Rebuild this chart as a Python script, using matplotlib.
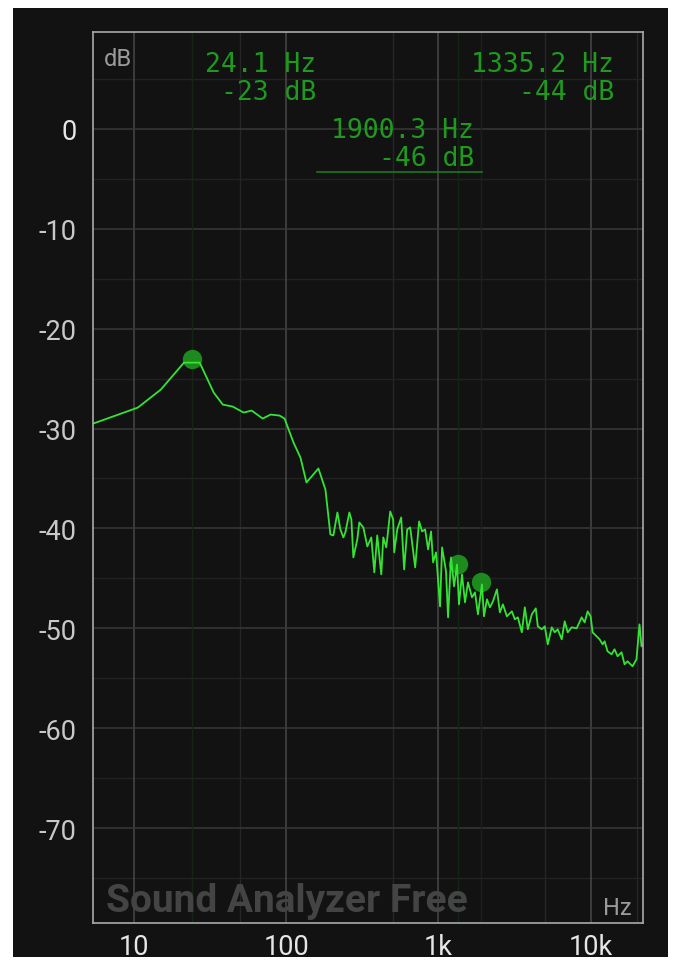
import matplotlib
matplotlib.use("Agg")
import matplotlib.pyplot as plt
from matplotlib.patches import Rectangle

# ---------------- data ----------------
freq_hz = [5.4, 10.6, 15.0, 21.3, 27.0, 33.4, 38.3, 44.5, 52.5, 59.3, 70.0, 78.9, 90.4, 97.5,
           111.6, 124, 135.8, 162.7, 180.9, 195.0, 204, 216.8, 226.8, 237.3, 244.6, 259.8,
           267.8, 276, 293, 302, 321, 341, 362, 379, 396, 421, 434, 454, 482, 504, 512, 536,
           569, 595, 623, 652, 703, 746, 781, 817, 855, 894, 922, 964, 1024, 1056, 1121,
           1156, 1209, 1266, 1324, 1364, 1427, 1494, 1563, 1660, 1737, 1817, 1930, 1990,
           2082, 2178, 2279, 2420, 2532, 2650, 2814, 3034, 3175, 3321, 3528, 3692, 3863,
           4102, 4357, 4491, 4770, 4992, 5222, 5546, 5803, 6072, 6449, 6748, 7061, 7499,
           8085, 8720, 9124, 9546, 9986, 10290, 10930, 11440, 11970, 12340, 12900, 13710,
           14340, 15010, 15940, 16680, 17450, 18820, 19980, 20910, 21550, 22000]
level_db = [-29.5, -27.9, -26.1, -23.4, -23.4, -26.4, -27.6, -27.8, -28.4, -28.2, -29.0, -28.6,
            -28.7, -29.0, -31.4, -32.9, -35.4, -34.0, -36.1, -40.6, -40.7, -38.4, -40.1,
            -40.9, -40.4, -38.4, -39.1, -42.9, -41.1, -39.4, -39.9, -41.8, -40.9, -44.4,
            -40.7, -44.6, -40.9, -41.9, -38.3, -39.1, -42.4, -40.1, -38.9, -44.1, -40.1,
            -39.9, -43.9, -39.3, -40.3, -40.1, -42.1, -40.3, -43.4, -42.4, -47.8, -41.9,
            -44.3, -48.9, -42.9, -45.8, -43.6, -47.6, -44.6, -47.4, -45.4, -46.9, -46.4,
            -48.6, -45.6, -48.8, -47.1, -47.9, -47.3, -46.1, -48.4, -47.6, -48.8, -48.3,
            -49.1, -48.9, -50.4, -47.9, -50.1, -48.6, -48.0, -49.8, -50.1, -49.8, -51.6,
            -49.9, -50.4, -50.1, -51.1, -49.3, -50.4, -49.9, -50.0, -48.9, -49.4, -48.3,
            -48.8, -50.4, -50.8, -51.1, -51.6, -51.3, -52.3, -52.6, -52.1, -52.8, -52.4,
            -53.6, -53.3, -53.8, -53.1, -49.6, -51.8, -51.6]

marker_freq = [24.1, 1335.2, 1900.3]
marker_db = [-23.0, -43.6, -45.4]
marker_labels = [("24.1 Hz", "-23 dB"), ("1335.2 Hz", "-44 dB"), ("1900.3 Hz", "-46 dB")]

x_ticks = [10, 100, 1000, 10000]
x_tick_labels = ["10", "100", "1k", "10k"]
x_minor = [50, 500, 5000, 20000]
y_ticks = [0, -10, -20, -30, -40, -50, -60, -70]
y_minor = [5, -5, -15, -25, -35, -45, -55, -65, -75]

# ---------------- figure ----------------
W, H = 673, 962
fig = plt.figure(figsize=(W / 100, H / 100), dpi=100, facecolor="white")
BG = "#121212"
bg_rect = Rectangle((13 / W, 1 - 958 / H), (668 - 13) / W, (958 - 9) / H,
                    transform=fig.transFigure, facecolor=BG, edgecolor="none", zorder=-10)
fig.patches.append(bg_rect)

ax = fig.add_axes([93 / W, 1 - 924 / H, (643 - 93) / W, (924 - 33) / H])
ax.set_zorder(1)
ax.set_facecolor(BG)
ax.set_xscale("log")
ax.set_xlim(5.38, 22050)
ax.set_ylim(-79.5, 9.7)

# grid
for f in x_minor:
    ax.axvline(f, color="#262626", lw=1.0, zorder=1)
for d in y_minor:
    ax.axhline(d, color="#222222", lw=1.0, zorder=1)
for f in x_ticks:
    ax.axvline(f, color="#484848", lw=1.1, zorder=1)
for d in y_ticks:
    ax.axhline(d, color="#383838", lw=1.1, zorder=1)
for f in marker_freq:
    ax.axvline(f, color="#152515", lw=1.0, zorder=1)

# watermark
fig.text(106 / W, 1 - 912 / H, "Sound Analyzer Free", fontsize=28, fontweight="bold",
         family=["Roboto", "DejaVu Sans"], color="#444444", ha="left", va="baseline", zorder=2)

# markers and curve
ax.plot(marker_freq, marker_db, "o", ms=14, color="#1d8a1d", mec="none", zorder=3)
ax.plot(freq_hz, level_db, color="#33e433", lw=1.3, zorder=4, solid_joinstyle="round")

# frame
for s in ax.spines.values():
    s.set_color("#aaaaaa")
    s.set_linewidth(1.2)
    s.set_zorder(5)

ax.set_xticks(x_ticks)
ax.set_xticklabels(x_tick_labels)
ax.set_xticks([], minor=True)
ax.set_yticks(y_ticks)
ax.set_yticklabels([str(v) for v in y_ticks])
ax.tick_params(axis="both", length=0, labelsize=19.5, colors="#e6e6e6")
ax.tick_params(axis="x", pad=7)
ax.tick_params(axis="y", pad=12)
for lab in ax.get_xticklabels() + ax.get_yticklabels():
    lab.set_family(["Roboto", "DejaVu Sans"])
for lab in ax.get_yticklabels()[1:]:
    lab.set_color("#c8c8c8")

# axis unit labels
fig.text(104 / W, 1 - 66 / H, "dB", fontsize=17, family=["Roboto", "DejaVu Sans"],
         color="#9a9a9a", ha="left", va="baseline", zorder=3)
fig.text(632 / W, 1 - 915 / H, "Hz", fontsize=17, family=["Roboto", "DejaVu Sans"],
         color="#9a9a9a", ha="right", va="baseline", zorder=3)

# marker readouts
GREEN = "#1f9a1f"
label_pos = [(316, 72), (614, 72), (474, 138)]
for (l1, l2), (xr, yb) in zip(marker_labels, label_pos):
    fig.text(xr / W, 1 - yb / H, l1, fontsize=19, family="DejaVu Sans Mono",
             color=GREEN, ha="right", va="baseline", zorder=3)
    fig.text(xr / W, 1 - (yb + 28) / H, l2, fontsize=19, family="DejaVu Sans Mono",
             color=GREEN, ha="right", va="baseline", zorder=3)
fig.add_artist(plt.Line2D([317 / W, 482 / W], [1 - 173 / H, 1 - 173 / H],
                          transform=fig.transFigure, color="#1a7a1a", lw=1.2, zorder=3))

fig.savefig("out.png", dpi=100, facecolor="white")
